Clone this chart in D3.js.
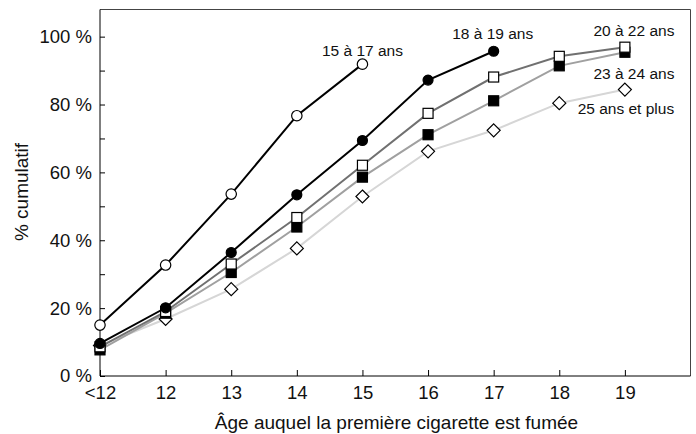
<!DOCTYPE html>
<html>
<head>
<meta charset="utf-8">
<script src="https://cdn.jsdelivr.net/npm/d3@7"></script>
<style>
  body { margin: 0; background: #fff; }
  svg { display: block; font-family: "Liberation Sans", Arial, sans-serif; }
</style>
</head>
<body>
<svg id="chart" width="696" height="434"></svg>
<script>
// categories (age de la premiere cigarette)
var ages = ["<12", "12", "13", "14", "15", "16", "17", "18", "19"];

// series, drawn from back to front
var seriesNames = ["25 ans et plus", "23 à 24 ans", "20 à 22 ans", "18 à 19 ans", "15 à 17 ans"];
var s25plus = [9.0, 16.8, 25.6, 37.6, 52.9, 66.2, 72.4, 80.4, 84.4];
var s23_24  = [7.7, 18.5, 30.5, 43.9, 58.6, 71.1, 81.1, 91.4, 95.4];
var s20_22  = [8.6, 19.0, 33.0, 46.7, 62.1, 77.4, 88.1, 94.2, 96.9];
var s18_19  = [9.6, 20.1, 36.4, 53.4, 69.4, 87.2, 95.7];
var s15_17  = [15.0, 32.7, 53.6, 76.7, 91.9];

var yTicks = [0, 20, 40, 60, 80, 100];

var seriesValues = [s25plus, s23_24, s20_22, s18_19, s15_17];

// styles per series
var lineColors = ["#d6d6d6", "#a0a0a0", "#707070", "#000", "#000"];
var markers = ["diamond", "squareFill", "square", "circleFill", "circle"];
var labelOffsets = [[1, 24], [9, 27], [9, -11], [-1, -12], [0, -8]];

var svg = d3.select("#chart"),
    margin = {top: 9.5, right: 5.5, bottom: 58, left: 100},
    width = +svg.attr("width") - margin.left - margin.right,
    height = +svg.attr("height") - margin.top - margin.bottom,
    g = svg.append("g").attr("transform", "translate(" + margin.left + "," + margin.top + ")");

var x = d3.scaleLinear().domain([0, ages.length]).range([0, width]);
var y = d3.scaleLinear().domain([0, 108]).range([height, 0]);

/* cadre */
g.append("path")
    .attr("d", "M0,0H" + width + "V" + height)
    .attr("fill", "none")
    .attr("stroke", "#444")
    .attr("stroke-width", 1);

/* axe Y */
var yAxis = g.append("g")
    .call(d3.axisLeft(y)
      .tickValues(d3.range(0, 101, 10))
      .tickSize(-5)
      .tickPadding(8)
      .tickFormat(function(d) { return yTicks.indexOf(d) >= 0 ? d + " %" : ""; }));
yAxis.select(".domain").attr("d", "M0,0V" + height).attr("stroke", "#000");
yAxis.selectAll("text").attr("font-size", 18.5).attr("fill", "#111").attr("font-family", null);
yAxis.selectAll("line").attr("stroke", "#000");

/* axe X */
var xAxis = g.append("g")
    .attr("transform", "translate(0," + height + ")")
    .call(d3.axisBottom(x)
      .tickValues(d3.range(ages.length))
      .tickSize(-6)
      .tickPadding(10)
      .tickFormat(function(i) { return ages[i]; }));
xAxis.select(".domain").attr("d", "M0,0H" + width).attr("stroke", "#000");
xAxis.selectAll("text").attr("font-size", 18.5).attr("fill", "#111").attr("font-family", null);
xAxis.selectAll("line").attr("stroke", "#000");

/* titres */
svg.append("text")
    .attr("x", 396.5)
    .attr("y", 429)
    .attr("text-anchor", "middle")
    .attr("font-size", 19)
    .attr("fill", "#111")
    .text("Âge auquel la première cigarette est fumée");

svg.append("text")
    .attr("transform", "translate(28," + 192 + ") rotate(-90)")
    .attr("text-anchor", "middle")
    .attr("font-size", 19)
    .attr("fill", "#111")
    .text("% cumulatif");

/* series */
var line = d3.line()
    .x(function(d, i) { return x(i); })
    .y(function(d) { return y(d); });

seriesValues.forEach(function(vals, k) {
  var sg = g.append("g");
  sg.append("path")
      .datum(vals)
      .attr("fill", "none")
      .attr("stroke", lineColors[k])
      .attr("stroke-width", 2)
      .attr("d", line);

  var m = markers[k];
  var pts = sg.selectAll(".pt")
      .data(vals)
      .enter().append("g")
      .attr("transform", function(d, i) { return "translate(" + x(i) + "," + y(d) + ")"; });

  if (m === "circle" || m === "circleFill") {
    pts.append("circle")
        .attr("r", m === "circle" ? 5.2 : 5)
        .attr("fill", m === "circle" ? "#fff" : "#000")
        .attr("stroke", "#000")
        .attr("stroke-width", 1.2);
  } else if (m === "square" || m === "squareFill") {
    pts.append("rect")
        .attr("x", -5).attr("y", -5)
        .attr("width", 10).attr("height", 10)
        .attr("fill", m === "square" ? "#fff" : "#000")
        .attr("stroke", "#000")
        .attr("stroke-width", 1.2);
  } else {
    pts.append("path")
        .attr("d", "M0,-6.5L6.5,0L0,6.5L-6.5,0Z")
        .attr("fill", "#fff")
        .attr("stroke", "#000")
        .attr("stroke-width", 1.2);
  }

  var last = vals.length - 1;
  sg.append("text")
      .attr("x", x(last) + labelOffsets[k][0])
      .attr("y", y(vals[last]) + labelOffsets[k][1])
      .attr("text-anchor", "middle")
      .attr("font-size", 15.5)
      .attr("fill", "#111")
      .text(seriesNames[k]);
});
</script>
</body>
</html>
